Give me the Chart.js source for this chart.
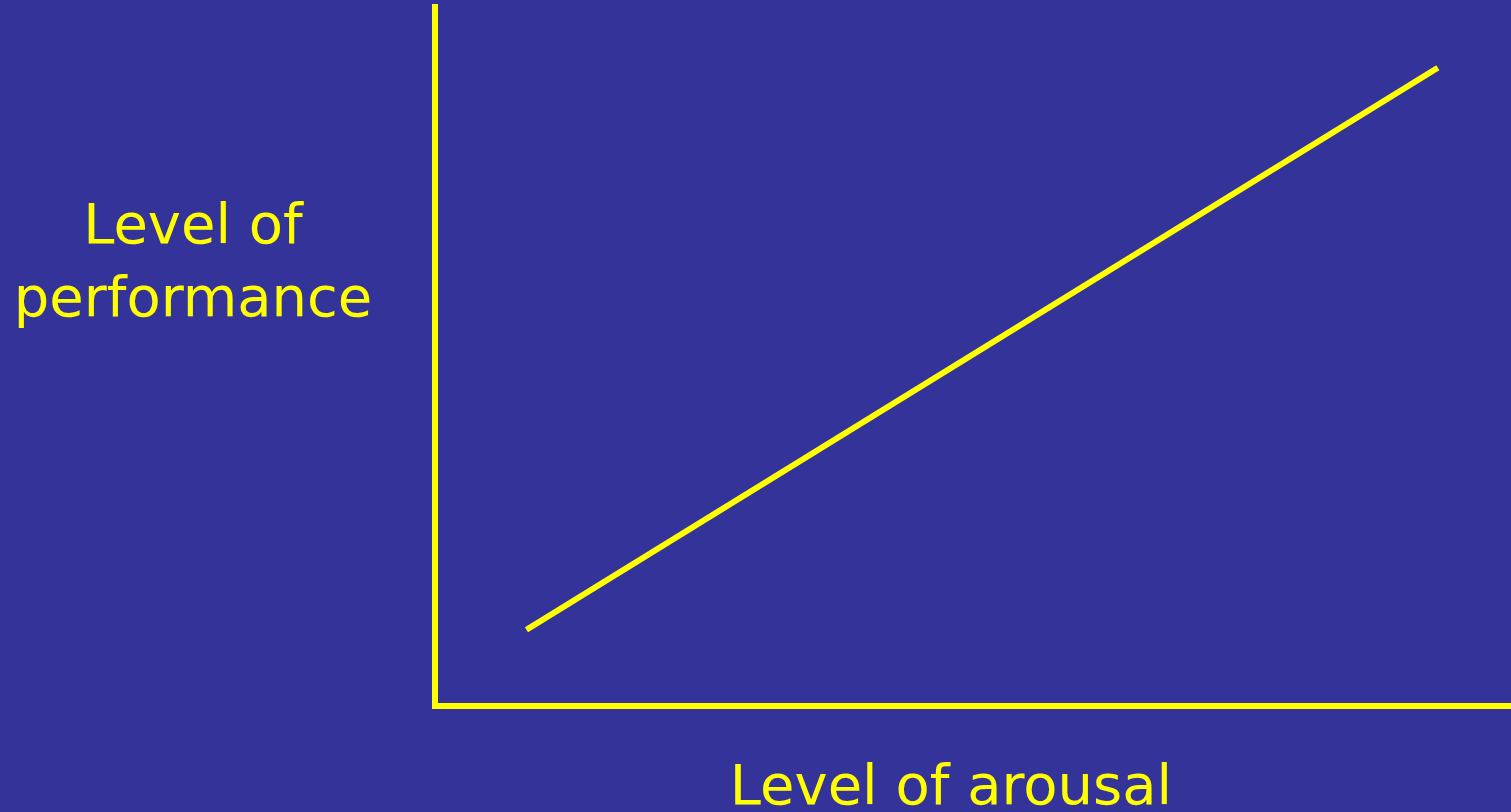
<!DOCTYPE html>
<html>
<head>
<meta charset="utf-8">
<script src="https://cdn.jsdelivr.net/npm/chart.js@4.4.0/dist/chart.umd.min.js"></script>
<style>
  html, body { margin: 0; padding: 0; background: #333399; overflow: hidden; }
  #wrap { width: 1511px; height: 812px; position: relative; }
</style>
</head>
<body>
<div id="wrap"><canvas id="arousalChart"></canvas></div>
<script>
// arousal (x) vs performance (y), 0..100 units
const arousal = [8.5, 93.2];
const performance = [10.9, 91.3];
const yLabelLines = ['Level of', 'performance'];
const xLabel = 'Level of arousal';

const YELLOW = '#ffff00';
const FONT = '"DejaVu Sans", sans-serif';

// labels drawn as text on the canvas
const axisLabels = {
    id: 'axisLabels',
    afterDraw(chart) {
        const ctx = chart.ctx;
        ctx.save();
        ctx.fillStyle = YELLOW;
        ctx.font = '56px ' + FONT;
        ctx.textAlign = 'center';
        ctx.textBaseline = 'alphabetic';
        ctx.fillText(yLabelLines[0], 193, 243);
        ctx.fillText(yLabelLines[1], 193, 316);
        ctx.fillText(xLabel, 951, 804);
        ctx.restore();
    }
};

const ctx = document.getElementById('arousalChart').getContext('2d');
new Chart(ctx, {
    type: 'scatter',
    data: {
        datasets: [{
            data: arousal.map((x, i) => ({ x: x, y: performance[i] })),
            showLine: true,
            borderColor: YELLOW,
            borderWidth: 6,
            borderCapStyle: 'butt',
            pointRadius: 0,
            fill: false
        }]
    },
    options: {
        responsive: true,
        maintainAspectRatio: false,
        animation: false,
        layout: { padding: { top: 7, right: 0, left: 0, bottom: 0 } },
        scales: {
            x: {
                type: 'linear',
                min: 0,
                max: 100,
                grid: { display: false },
                ticks: { display: false },
                border: { display: true, color: YELLOW, width: 6 },
                afterFit: function(scale) { scale.height = 106; }
            },
            y: {
                type: 'linear',
                min: 0,
                max: 100,
                grid: { display: false },
                ticks: { display: false },
                border: { display: true, color: YELLOW, width: 6 },
                afterFit: function(scale) { scale.width = 435; }
            }
        },
        plugins: {
            legend: { display: false },
            tooltip: { enabled: false }
        }
    },
    plugins: [axisLabels]
});
</script>
</body>
</html>
